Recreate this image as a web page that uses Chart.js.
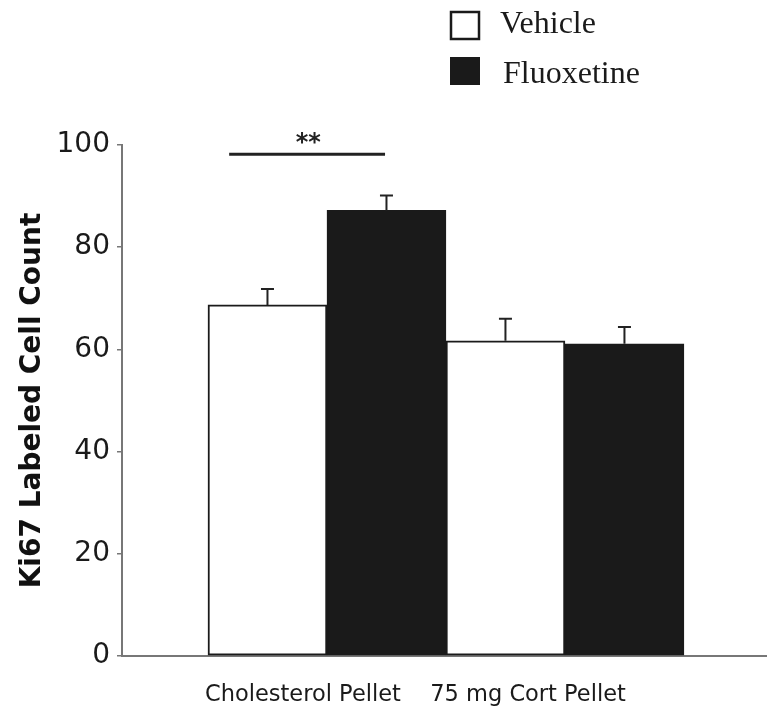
<!DOCTYPE html>
<html><head><meta charset="utf-8">
<script src="https://cdn.jsdelivr.net/npm/chart.js@4.4.0/dist/chart.umd.min.js"></script>
<style>html,body{margin:0;padding:0;background:#fff}#wrap{width:767px;height:713px}</style>
</head><body><div id="wrap"><canvas id="c" width="767" height="713"></canvas></div>
<script>
// ---- data ----
const categories = ['Cholesterol Pellet', '75 mg Cort Pellet'];
const categoryPositions = [1, 2];
const categoryLabelPositions = [0.899, 1.845];
const seriesNames = ['Vehicle', 'Fluoxetine'];
const vehicleMeans = [68.7, 61.7];
const vehicleSEM = [3.1, 4.3];
const fluoxetineMeans = [87.2, 61.1];
const fluoxetineSEM = [2.9, 3.3];
const yTickValues = [0, 20, 40, 60, 80, 100];
const yTitle = 'Ki67 Labeled Cell Count';
const sigFrom = 0.589, sigTo = 1.244, sigLevel = 98.2, sigText = '**', sigTextLevel = 100.2;

const errors = [vehicleSEM, fluoxetineSEM];
const fills = ['#ffffff', '#1a1a1a'];

const errorBarPlugin = {
  id: 'errorBars',
  afterDatasetsDraw(chart) {
    const ctx = chart.ctx, y = chart.scales.y;
    ctx.save();
    ctx.strokeStyle = '#222';
    ctx.lineWidth = 2;
    chart.data.datasets.forEach((ds, i) => {
      const meta = chart.getDatasetMeta(i);
      meta.data.forEach((el, j) => {
        const v = ds.data[j].y, e = errors[i][j];
        const top = y.getPixelForValue(v + e);
        ctx.beginPath();
        ctx.moveTo(el.x, el.y);
        ctx.lineTo(el.x, top);
        ctx.moveTo(el.x - 6.5, top);
        ctx.lineTo(el.x + 6.5, top);
        ctx.stroke();
      });
    });
    // significance bracket
    const x = chart.scales.x;
    ctx.strokeStyle = '#222';
    ctx.lineWidth = 3;
    const sy = y.getPixelForValue(sigLevel);
    ctx.beginPath();
    ctx.moveTo(x.getPixelForValue(sigFrom), sy);
    ctx.lineTo(x.getPixelForValue(sigTo), sy);
    ctx.stroke();
    ctx.fillStyle = '#222';
    ctx.font = 'bold 24px "DejaVu Sans"';
    ctx.textAlign = 'center';
    ctx.textBaseline = 'middle';
    ctx.fillText(sigText, x.getPixelForValue((sigFrom + sigTo) / 2 + 0.005), y.getPixelForValue(sigTextLevel));
    ctx.restore();
  }
};

const legendPlugin = {
  id: 'sideLegend',
  afterDraw(chart) {
    const ctx = chart.ctx;
    ctx.save();
    ctx.font = '32px "Liberation Serif"';
    ctx.textBaseline = 'alphabetic';
    ctx.textAlign = 'left';
    ctx.lineWidth = 2.5;
    ctx.strokeStyle = '#1a1a1a';
    ctx.fillStyle = fills[0];
    ctx.fillRect(451, 12, 28, 27);
    ctx.strokeRect(451, 12, 28, 27);
    ctx.fillStyle = '#1a1a1a';
    ctx.fillText(seriesNames[0], 500, 33);
    ctx.fillStyle = fills[1];
    ctx.fillRect(450, 57, 30, 28);
    ctx.fillStyle = '#1a1a1a';
    ctx.fillText(seriesNames[1], 503, 83);
    ctx.restore();
  }
};

const toXY = arr => arr.map((v, i) => ({ x: categoryPositions[i], y: v }));

new Chart(document.getElementById('c'), {
  type: 'bar',
  data: {
    datasets: [
      { label: seriesNames[0], data: toXY(vehicleMeans), backgroundColor: fills[0], borderColor: '#1a1a1a', borderWidth: 2, borderSkipped: false },
      { label: seriesNames[1], data: toXY(fluoxetineMeans), backgroundColor: fills[1], borderColor: '#1a1a1a', borderWidth: 2, borderSkipped: false }
    ]
  },
  options: {
    responsive: false,
    animation: false,
    devicePixelRatio: 1,
    barThickness: 119,
    layout: { padding: { top: 145, right: 0, left: 0, bottom: 0 } },
    plugins: { legend: { display: false }, tooltip: { enabled: false } },
    scales: {
      x: {
        type: 'linear',
        offset: false,
        min: 0.1387,
        max: 2.849,
        afterBuildTicks: s => { s.ticks = categoryLabelPositions.map(v => ({ value: v })); },
        afterFit: s => { s.height = 57; },
        ticks: {
          autoSkip: false, maxRotation: 0, minRotation: 0, padding: 26,
          font: { family: 'DejaVu Sans', size: 22.5 }, color: '#1a1a1a',
          callback: v => { const k = categoryLabelPositions.indexOf(v); return k >= 0 ? categories[k] : ''; }
        },
        grid: { display: true, offset: false, drawOnChartArea: false, drawTicks: false },
        border: { display: true, color: '#777', width: 2 }
      },
      y: {
        min: 0, max: 100,
        afterBuildTicks: s => { s.ticks = yTickValues.map(v => ({ value: v })); },
        afterFit: s => { s.width = 122; },
        ticks: { font: { family: 'DejaVu Sans', size: 28 }, color: '#1a1a1a', padding: 7 },
        grid: { display: true, drawOnChartArea: false, drawTicks: true, tickLength: 5, color: '#777', lineWidth: 1.5 },
        border: { display: true, color: '#777', width: 2 },
        title: { display: true, text: yTitle, font: { family: 'DejaVu Sans', size: 28, weight: 'bold' }, color: '#111', padding: { top: 16, bottom: 0 } }
      }
    }
  },
  plugins: [errorBarPlugin, legendPlugin]
});
</script>
</body></html>
